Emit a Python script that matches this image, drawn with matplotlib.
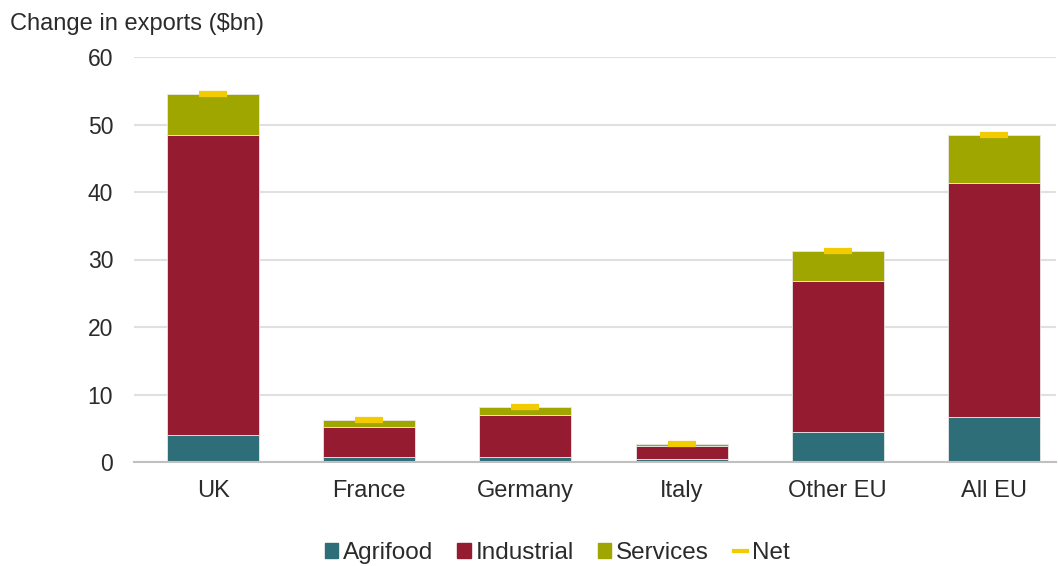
import numpy as np
import matplotlib.pyplot as plt
from matplotlib.lines import Line2D
from matplotlib.patches import Patch

plt.rcParams['font.family'] = ['Liberation Sans', 'DejaVu Sans']

# datos
regiones = ['UK', 'France', 'Germany', 'Italy', 'Other EU', 'All EU']
agrifood = [4.0, 0.8, 0.7, 0.5, 4.5, 6.6]
industrial = [44.4, 4.4, 6.2, 1.9, 22.3, 34.8]
services = [6.1, 1.0, 1.2, 0.3, 4.5, 7.0]
net = [54.5, 6.2, 8.1, 2.7, 31.3, 48.4]

c_agri = '#2E6E78'
c_ind = '#951B30'
c_serv = '#A0A600'
c_net = '#F2CC00'
c_texto = '#2B2B2B'

fig = plt.figure(figsize=(10.58, 5.66), dpi=100)
ax = fig.add_axes([134 / 1058, 1 - 462 / 566, (1056 - 134) / 1058, (462 - 57) / 566])

x = np.arange(len(regiones))
ancho = 0.59
a = np.array(agrifood)
i = np.array(industrial)
s = np.array(services)

ax.bar(x, a, ancho, color=c_agri, edgecolor='#E8E8E8', linewidth=0.6, zorder=2)
ax.bar(x, i, ancho, bottom=a, color=c_ind, edgecolor='#E8E8E8', linewidth=0.6, zorder=2)
ax.bar(x, s, ancho, bottom=a + i, color=c_serv, edgecolor='#E8E8E8', linewidth=0.6, zorder=2)
ax.plot(x, net, linestyle='none', marker='_', markersize=20, markeredgewidth=4.5,
        color=c_net, zorder=3)

ax.set_xlim(-0.506, 5.397)
ax.set_ylim(0, 60)
ax.set_yticks(range(0, 61, 10))
ax.set_xticks(x)
ax.set_xticklabels(regiones)
ax.tick_params(axis='y', length=0, pad=15, labelsize=16.5, labelcolor=c_texto)
ax.tick_params(axis='x', length=0, pad=13, labelsize=17, labelcolor=c_texto)
ax.grid(axis='y', color='#E2E0DE', linewidth=1.5, zorder=0)
ax.set_axisbelow(True)
for lado in ['top', 'right', 'left']:
    ax.spines[lado].set_visible(False)
ax.spines['bottom'].set_color('#C0C0C0')
ax.spines['bottom'].set_linewidth(1.5)

fig.text(10 / 1058, 1 - 24 / 566, 'Change in exports ($bn)', fontsize=17, color=c_texto,
         ha='left', va='center')

handles = [Patch(color=c_agri), Patch(color=c_ind), Patch(color=c_serv),
           Line2D([], [], color=c_net, linewidth=3)]
fig.legend(handles, ['Agrifood', 'Industrial', 'Services', 'Net'], loc='center',
           bbox_to_anchor=(557 / 1058, 1 - 553 / 566), ncol=4, frameon=False,
           fontsize=17.5, handlelength=0.55, handleheight=0.55, handletextpad=0.2,
           columnspacing=1.0, labelcolor=c_texto)

plt.savefig('out.png', dpi=100)
